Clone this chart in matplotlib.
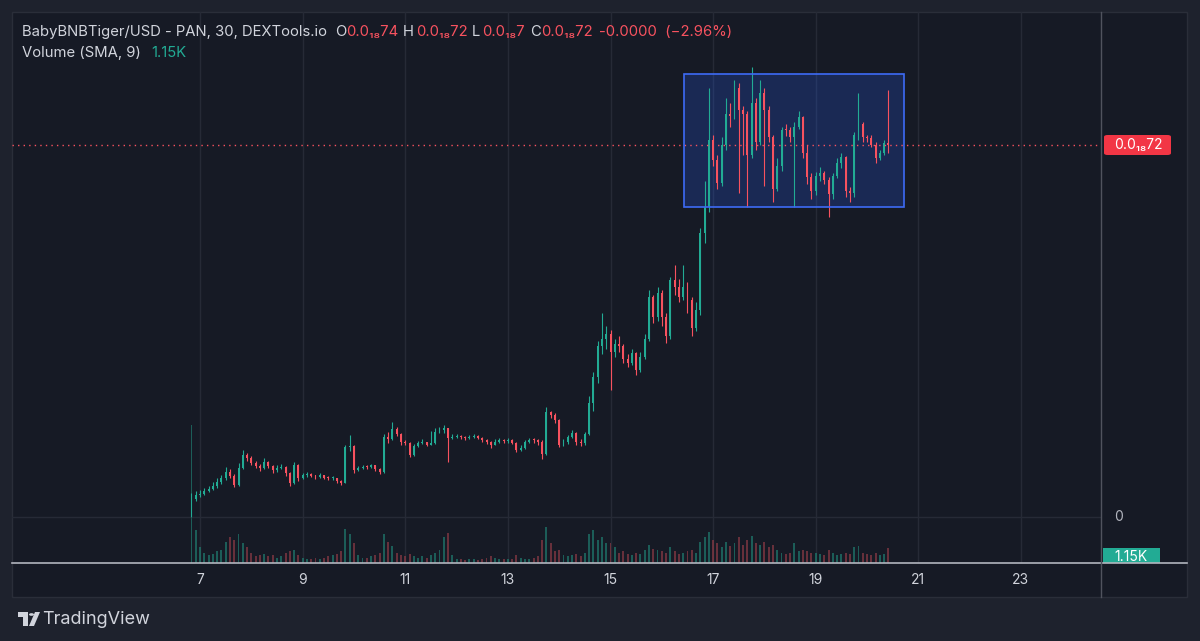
import numpy as np
import matplotlib
matplotlib.use("Agg")
import matplotlib.pyplot as plt
from matplotlib.patches import Rectangle, Circle, Polygon, FancyBboxPatch
from matplotlib.lines import Line2D

plt.rcParams['font.family'] = ['Inter', 'DejaVu Sans']

# 2-hour candles, first one on Jun 6 20:00, values in units of 1e-20 USD
first_open = 0.3
closes = [
    3.5, 4.2,
    4.5, 5.0, 5.5, 6.0, 6.8, 7.5, 8.7, 8.0, 6.2, 9.5, 12.0, 11.5,
    10.5, 9.8, 9.5, 10.6, 9.8, 9.0, 9.4, 9.7, 8.5, 6.5, 10.0, 7.5,
    8.1, 8.3, 8.0, 7.8, 8.1, 7.6, 7.5, 7.5, 7.0, 6.6, 13.5, 13.8,
    9.0, 9.5, 9.7, 9.6, 10.0, 9.2, 8.7, 15.5, 15.0, 17.0, 16.0, 14.5,
    14.3, 12.0, 13.8, 14.3, 14.5, 14.0, 14.3, 16.5, 16.8, 17.2, 15.3, 15.5,
    15.6, 15.4, 15.2, 15.5, 15.6, 15.3, 14.8, 14.5, 14.0, 14.6, 14.8, 14.7,
    14.8, 14.4, 13.0, 13.4, 14.6, 14.9, 14.8, 14.5, 12.2, 20.3, 19.8, 18.8,
    14.0, 14.5, 15.5, 16.2, 14.5, 14.3, 16.0, 22.0, 27.0, 33.0, 34.5, 35.5,
    32.0, 33.5, 33.0, 30.5, 29.8, 31.7, 28.4, 31.0, 34.5, 42.5, 38.7, 43.3,
    38.7, 35.0, 45.8, 44.5, 42.5, 44.5, 42.0, 36.5, 40.0, 55.0, 60.0, 73.0,
    69.0, 64.6, 72.0, 78.0, 77.5, 83.0, 78.7, 78.0, 70.0, 80.0, 72.5, 82.0,
    78.7, 73.5, 63.5, 68.0, 74.9, 74.8, 73.5, 75.4, 77.4, 70.5, 65.8, 63.0,
    66.0, 66.5, 65.2, 62.5, 66.0, 68.5, 69.6, 63.0, 62.7, 74.0, 76.0, 73.5,
    73.3, 72.0, 69.4, 70.4, 72.3, 72.0,
]
highs = [
    4.6, 5.0,
    5.2, 5.6, 6.0, 6.8, 7.5, 8.2, 9.6, 9.2, 8.4, 10.5, 13.0, 12.3,
    11.8, 10.8, 10.2, 11.5, 10.9, 10.0, 10.0, 10.3, 9.9, 8.8, 10.6, 10.2,
    8.5, 8.7, 8.5, 8.2, 8.5, 8.2, 7.9, 8.0, 7.6, 7.2, 14.0, 15.8,
    14.0, 9.9, 10.0, 10.0, 10.3, 10.1, 9.4, 16.0, 16.5, 18.4, 17.4, 16.2,
    14.9, 14.5, 14.2, 14.7, 15.0, 14.6, 16.6, 17.3, 17.5, 17.8, 17.3, 16.0,
    16.0, 15.9, 15.6, 15.9, 16.0, 15.8, 15.4, 15.0, 14.7, 15.0, 15.2, 15.1,
    15.2, 15.0, 14.6, 14.0, 14.9, 15.3, 15.3, 15.1, 14.9, 21.2, 20.6, 20.2,
    18.9, 15.0, 15.9, 16.8, 16.5, 15.0, 16.5, 23.5, 28.0, 34.0, 39.5, 37.0,
    36.2, 34.5, 35.0, 33.5, 31.5, 32.5, 32.0, 32.0, 35.5, 44.0, 43.0, 44.5,
    44.0, 39.5, 46.5, 48.7, 46.0, 48.7, 45.5, 42.5, 41.5, 56.0, 65.0, 83.0,
    74.0, 70.0, 73.5, 81.0, 80.0, 84.5, 84.0, 79.5, 78.5, 87.0, 81.0, 84.5,
    83.0, 79.5, 74.0, 69.5, 75.5, 76.0, 75.5, 76.5, 78.5, 77.6, 72.0, 66.5,
    66.8, 67.8, 67.0, 65.8, 66.6, 69.5, 70.5, 69.9, 63.8, 74.5, 82.0, 76.5,
    74.0, 74.0, 72.5, 71.0, 73.0, 82.6,
]
lows = [
    0.0, 3.0,
    3.8, 4.2, 4.8, 5.2, 5.6, 6.4, 7.2, 7.6, 5.8, 6.0, 9.2, 10.8,
    10.0, 9.4, 8.9, 9.2, 9.5, 8.6, 8.8, 9.2, 8.0, 6.0, 6.3, 7.0,
    7.3, 7.8, 7.7, 7.4, 7.6, 7.3, 7.1, 7.2, 6.6, 6.2, 6.5, 12.8,
    8.5, 8.9, 9.3, 9.2, 9.5, 8.9, 8.4, 8.6, 14.4, 14.8, 15.6, 14.0,
    13.9, 11.6, 11.8, 13.6, 14.1, 13.7, 13.9, 14.2, 16.2, 16.3, 10.6, 15.0,
    15.2, 15.1, 14.9, 15.0, 15.2, 15.0, 14.5, 14.1, 13.3, 13.9, 14.3, 14.3,
    14.4, 14.1, 12.6, 12.8, 13.2, 14.4, 14.4, 14.0, 11.3, 12.0, 19.1, 18.2,
    13.5, 13.8, 14.2, 15.2, 14.0, 13.8, 14.0, 15.8, 20.5, 26.0, 31.5, 32.5,
    24.6, 31.0, 32.0, 29.8, 29.0, 29.5, 27.5, 28.0, 30.5, 34.0, 37.5, 38.0,
    37.0, 33.6, 34.5, 43.0, 41.5, 42.0, 39.5, 35.0, 36.0, 39.0, 53.0, 59.0,
    68.0, 63.5, 64.0, 71.0, 75.5, 77.0, 62.7, 70.0, 60.0, 69.5, 71.0, 72.0,
    64.0, 72.5, 61.0, 63.0, 67.0, 73.8, 72.5, 60.0, 75.0, 69.5, 64.5, 61.5,
    62.2, 65.0, 64.5, 58.0, 61.5, 65.5, 67.5, 62.0, 61.0, 62.0, 73.0, 72.5,
    72.5, 71.5, 68.5, 69.0, 70.0, 70.5,
]
# volume in thousands
volumes = [
    10.6, 2.5,
    1.2, 0.8, 0.6, 0.7, 0.9, 1.0, 1.6, 2.0, 1.8, 2.2, 1.5, 1.2,
    0.8, 0.5, 0.6, 0.7, 0.5, 0.6, 0.4, 0.5, 0.8, 0.9, 1.0, 0.6,
    0.4, 0.3, 0.3, 0.4, 0.3, 0.4, 0.5, 0.6, 0.7, 0.9, 2.6, 2.2,
    1.5, 0.6, 0.4, 0.4, 0.5, 0.6, 0.8, 2.2, 1.6, 1.3, 0.8, 0.6,
    0.5, 0.7, 0.5, 0.4, 0.5, 0.4, 0.6, 0.8, 1.0, 2.0, 2.3, 0.6,
    0.3, 0.3, 0.2, 0.3, 0.3, 0.2, 0.3, 0.4, 0.5, 0.4, 0.3, 0.3,
    0.3, 0.3, 0.6, 0.4, 0.3, 0.3, 0.4, 0.5, 1.8, 2.8, 1.5, 0.9,
    1.0, 0.6, 0.5, 0.6, 0.7, 0.5, 0.8, 2.2, 2.5, 1.8, 2.0, 1.5,
    1.5, 1.2, 0.8, 0.9, 0.7, 0.6, 0.8, 0.7, 1.0, 1.4, 1.1, 1.0,
    0.9, 0.8, 1.2, 0.9, 0.7, 0.8, 0.9, 1.0, 0.8, 1.6, 2.0, 2.4,
    1.8, 1.5, 1.2, 1.6, 1.3, 1.5, 2.0, 1.4, 1.8, 2.1, 1.5, 1.4,
    1.6, 1.2, 1.4, 1.0, 0.8, 0.7, 0.8, 1.5, 0.9, 1.0, 0.9, 0.8,
    0.8, 0.7, 0.6, 1.0, 0.8, 0.6, 0.7, 0.8, 0.7, 1.2, 1.3, 0.8,
    0.7, 0.6, 0.8, 0.6, 0.7, 1.15,
]
last_price = 72.0
tick_days = [7, 9, 11, 13, 15, 17, 19, 21, 23]
# drawn rectangle (day of month, price)
box_start, box_end = 16.44, 20.73
box_low, box_high = 60.0, 85.7

UP = '#22AB94'
DOWN = '#F7525F'
FG = '#D1D4DC'
W, H = 1200, 641


def fx(x):
    return x / W


def fy(y):
    return 1 - y / H


c = np.array(closes)
o = np.concatenate([[first_open], c[:-1]])
hi = np.maximum(np.array(highs), np.maximum(o, c))
lo = np.minimum(np.array(lows), np.minimum(o, c))
vol = np.array(volumes)
t = 6 + 20 / 24 + np.arange(len(c)) / 12
up = c >= o
cols = np.where(up, UP, DOWN)

fig = plt.figure(figsize=(12, 6.41), dpi=100, facecolor='#1E222D')
fig.patches.append(Rectangle((fx(12), fy(597)), fx(1175), 585 / H,
                             transform=fig.transFigure, facecolor='#161A25',
                             edgecolor='#2A2E39', lw=1, zorder=-5))

axv = fig.add_axes([fx(12), fy(563), fx(1089), 551 / H])
ax = fig.add_axes([fx(12), fy(563), fx(1089), 551 / H], sharex=axv)
for a in (ax, axv):
    a.set_facecolor('none')
    for s in a.spines.values():
        s.set_visible(False)
    a.tick_params(left=False, bottom=False, labelleft=False, labelbottom=False)

# volume
vcols = np.where(up, '#1F7A6E', '#8A3A45')
axv.bar(t, vol, width=1 / 12 * 0.45, color=vcols, alpha=0.7, linewidth=0)
axv.set_ylim(0, 42.3)
axv.set_xlim(3.335, 24.56)
for d in tick_days:
    axv.axvline(d, color='#262A36', lw=1, zorder=0)

# candles
ax.vlines(t, lo, hi, colors=cols, lw=0.8)
body = np.maximum(np.abs(c - o), 0.25)
ax.bar(t, body, bottom=np.minimum(o, c), width=1 / 12 * 0.45, color=cols, linewidth=0)
ax.set_ylim(-8.9, 97.7)
ax.axhline(0, color='#262A36', lw=1, zorder=0)
ax.axhline(last_price, color=DOWN, lw=1, ls=(0, (1, 3)))
ax.add_patch(Rectangle((box_start, box_low), box_end - box_start, box_high - box_low,
                       facecolor='#2962FF', alpha=0.22, edgecolor='none', zorder=0.5))
ax.add_patch(Rectangle((box_start, box_low), box_end - box_start, box_high - box_low,
                       facecolor='none', edgecolor='#3D6BF5', lw=1.2, zorder=3))

# separators
fig.add_artist(Line2D([fx(12), fx(1187)], [fy(563), fy(563)], color='#B2B5BE', lw=1.2))
fig.add_artist(Line2D([fx(1101), fx(1101)], [fy(12), fy(597)], color='#50535E', lw=1))

# time axis
for d in tick_days:
    x = 200 + (d - 7) * 51.3
    fig.text(fx(x), fy(580), str(d), color=FG, fontsize=10, ha='center', va='center')

# price scale
fig.text(fx(1119), fy(517), '0', color='#B2B5BE', fontsize=10, ha='center', va='center')
fig.patches.append(FancyBboxPatch((fx(1104), fy(155)), fx(67), 20 / H,
                                  boxstyle='round,pad=0,rounding_size=0.003',
                                  transform=fig.transFigure, facecolor='#F23645',
                                  edgecolor='none'))
fig.text(fx(1138), fy(145), '0.0₁₈72', color='white', fontsize=10, ha='center', va='center')
fig.patches.append(Rectangle((fx(1103), fy(563)), fx(57), 15 / H,
                             transform=fig.transFigure, facecolor='#22AB94', edgecolor='none'))
fig.text(fx(1131), fy(557), '1.15K', color='white', fontsize=10, ha='center', va='center')

# legend header
header = [
    ('BabyBNBTiger/USD - PAN, 30, DEXTools.io', 22, FG),
    ('O', 335, FG), ('0.0₁₈74', 346, DOWN),
    ('H', 403, FG), ('0.0₁₈72', 416, DOWN),
    ('L', 472, FG), ('0.0₁₈7', 482, DOWN),
    ('C', 530, FG), ('0.0₁₈72', 541, DOWN),
    ('-0.0000  (\u22122.96%)', 599, DOWN),
]
for txt, x, col in header:
    fig.text(fx(x), fy(32), txt, color=col, fontsize=10.7, ha='left', va='center')
fig.text(fx(22), fy(53), 'Volume (SMA, 9)', color=FG, fontsize=10.7, ha='left', va='center')
fig.text(fx(151), fy(53), '1.15K', color=UP, fontsize=10.7, ha='left', va='center')

# TradingView logo
logo = '#D1D4DC'
fig.patches.append(Polygon([(fx(18), fy(612)), (fx(28), fy(612)), (fx(28), fy(626)),
                            (fx(23), fy(626)), (fx(23), fy(617)), (fx(18), fy(617))],
                           closed=True, transform=fig.transFigure, facecolor=logo, edgecolor='none'))
fig.patches.append(Circle((fx(31.5), fy(614.5)), 2.5 / W, transform=fig.transFigure,
                          facecolor=logo, edgecolor='none'))
fig.patches.append(Polygon([(fx(35), fy(612)), (fx(40), fy(612)), (fx(34), fy(626)), (fx(29), fy(626))],
                           closed=True, transform=fig.transFigure, facecolor=logo, edgecolor='none'))
fig.text(fx(42), fy(619), 'TradingView', color=logo, fontsize=13, ha='left', va='center')

fig.savefig('out.png', dpi=100, facecolor=fig.get_facecolor())
